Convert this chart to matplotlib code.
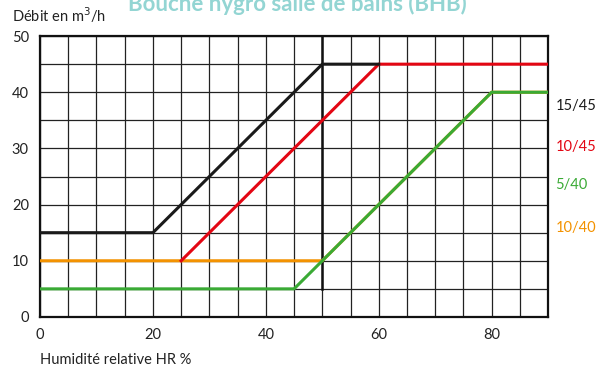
import matplotlib
matplotlib.use("Agg")
import matplotlib.pyplot as plt
from matplotlib.ticker import MultipleLocator

plt.rcParams['font.family'] = ['Lato', 'DejaVu Sans']

# donnees (HR %, debit m3/h)
hr_15_45 = [0, 20, 50, 60]
q_15_45 = [15, 15, 45, 45]
hr_10_45 = [25, 60, 90]
q_10_45 = [10, 45, 45]
hr_5_40 = [0, 45, 80, 90]
q_5_40 = [5, 5, 40, 40]
hr_10_40 = [0, 50, 80, 90]
q_10_40 = [10, 10, 40, 40]

etiquettes = ["15/45", "10/45", "5/40", "10/40"]
pos_etiquettes = [37.5, 30.2, 23.5, 15.8]
couleurs = ["#1a1a1a", "#e30613", "#3aaa35", "#f39200"]

fig = plt.figure(figsize=(6.09, 3.72), dpi=100)
ax = fig.add_axes([0.0657, 0.148, 0.8343, 0.755])

ax.set_xlim(0, 90)
ax.set_ylim(0, 50)
ax.xaxis.set_major_locator(MultipleLocator(20))
ax.yaxis.set_major_locator(MultipleLocator(10))
ax.xaxis.set_minor_locator(MultipleLocator(5))
ax.yaxis.set_minor_locator(MultipleLocator(5))
ax.grid(which="both", color="#222222", lw=0.9)
ax.set_axisbelow(True)
ax.tick_params(which="both", length=0, labelsize=10.5, colors="#222222")
ax.tick_params(axis="x", pad=8)
ax.tick_params(axis="y", pad=8)
for s in ax.spines.values():
    s.set_linewidth(1.6)
    s.set_color("#111111")

# trait vertical a 50 %
ax.plot([50, 50], [5, 50], color="#111111", lw=1.8, zorder=2)

#courbes
ax.plot(hr_10_40, q_10_40, color=couleurs[3], lw=2.2, zorder=3)
ax.plot(hr_5_40, q_5_40, color=couleurs[2], lw=2.2, zorder=4)
ax.plot(hr_10_45, q_10_45, color=couleurs[1], lw=2.2, zorder=5)
ax.plot(hr_15_45, q_15_45, color=couleurs[0], lw=2.2, zorder=6)

for txt, y, c in zip(etiquettes, pos_etiquettes, couleurs):
    ax.text(91.3, y, txt, color=c, fontsize=10.5, va="center", ha="left", clip_on=False)

fig.text(0.02, 0.958, "Débit en m$^3$/h", fontsize=10.5, color="#222222", va="center")
fig.text(0.0657, 0.032, "Humidité relative HR %", fontsize=10.5, color="#222222", va="center")
fig.text(0.488, 0.99, "Bouche hygro salle de bains (BHB)", fontsize=16, fontweight="bold",
         color="#93d5d3", ha="center", va="center")

fig.savefig("out.png", dpi=100)
